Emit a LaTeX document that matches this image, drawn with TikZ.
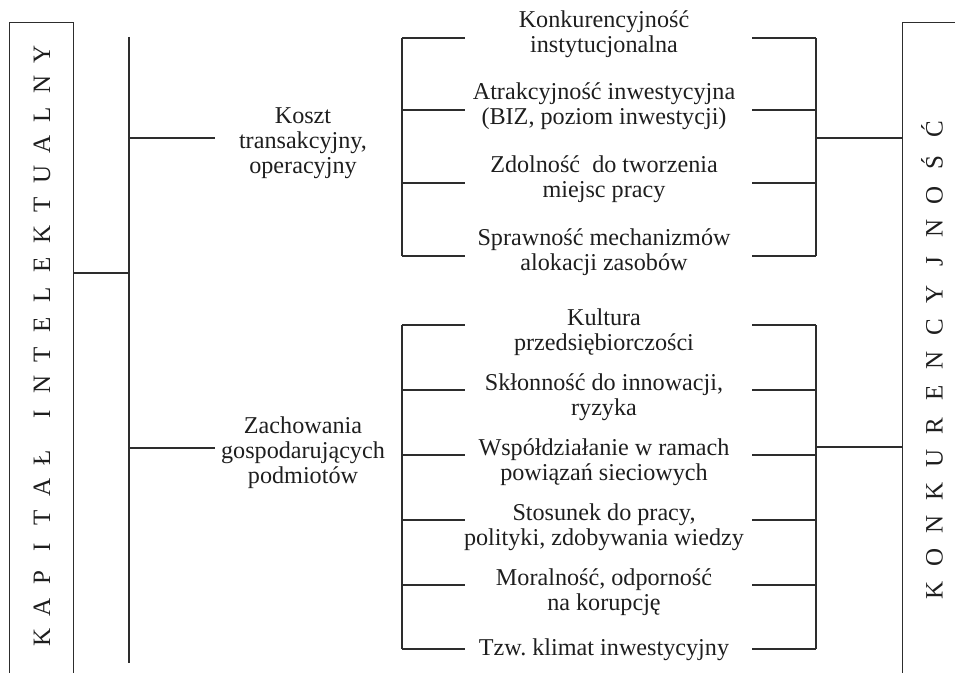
\documentclass[tikz,border=0pt]{standalone}
\usepackage{fontspec}
\setmainfont{Liberation Serif}
\definecolor{linegray}{RGB}{45, 45, 45}
\definecolor{textgray}{RGB}{30, 30, 30}
\usepackage{tikz}
\usetikzlibrary{positioning, calc}
\newcommand{\capL}[1]{\makebox[14.4pt]{#1}}
\newcommand{\capR}[1]{\makebox[15.8pt]{#1}}
\tikzset{
	item/.style={align=center, inner sep=0pt, text=textgray,
		font=\fontsize{11.6}{12}\selectfont},
	conn/.style={draw=linegray, line width=0.6pt},
	sidebox/.style={draw=linegray, line width=0.6pt, anchor=north west,
		minimum width=30.72pt, minimum height=335pt},
	sidetext/.style={rotate=90, inner sep=0pt, text=textgray,
		font=\fontsize{12}{12}\selectfont}
}

\begin{document}
\begin{tikzpicture}[x=0.48pt, y=-0.48pt]
	\clip (0,0) rectangle (955,672);
	
	\node[sidebox] (kapital) at (9,22) {};
	\node[sidetext] (kapitaltxt) at (42,346) {\capL K\capL A\capL P\capL I\capL T\capL A\capL Ł\hspace{6.2pt}\capL I\capL N\capL T\capL E\capL L\capL E\capL K\capL T\capL U\capL A\capL L\capL N\capL Y};
	\node[sidebox] (konk) at (902,22) {};
	\node[sidetext] (konktxt) at (932,360) {\capR K\capR O\capR N\capR K\capR U\capR R\capR E\capR N\capR C\capR Y\capR J\capR N\capR O\capR Ś\capR Ć};
	
	\coordinate (spine top) at (129,37);
	\coordinate (spine bot) at (129,663);
	\draw[conn] (spine top) -- (spine bot);
	\draw[conn] (kapital.east |- 0,273) -- (spine top |- 0,273);
	
	\node[item] (koszt) at (303,143) {Koszt\\transakcyjny,\\operacyjny};
	\node[item] (zach) at (303,453) {Zachowania\\gospodarujących\\podmiotów};
	\draw[conn] (spine top |- 0,138) -- (215,138);
	\draw[conn] (spine top |- 0,448) -- (215,448);
	
	\node[item] (k1) at (604,34) {Konkurencyjność\\instytucjonalna};
	\node[item] (k2) at (604,106) {Atrakcyjność inwestycyjna\\(BIZ, poziom inwestycji)};
	\node[item] (k3) at (604,179) {Zdolność\ \ do tworzenia\\miejsc pracy};
	\node[item] (k4) at (604,252) {Sprawność mechanizmów\\alokacji zasobów};
	
	\node[item] (z1) at (604,332) {Kultura\\przedsiębiorczości};
	\node[item] (z2) at (604,397) {Skłonność do innowacji,\\ryzyka};
	\node[item] (z3) at (604,462) {Współdziałanie w ramach\\powiązań sieciowych};
	\node[item] (z4) at (604,527) {Stosunek do pracy,\\polityki, zdobywania wiedzy};
	\node[item] (z5) at (604,592) {Moralność, odporność\\na korupcję};
	\node[item] (z6) at (604,650) {Tzw.\ klimat inwestycyjny};
	
	\foreach \y in {38,110,183,256,325,390,455,520,585,649}{
		\draw[conn] (402,\y) -- (465,\y);
		\draw[conn] (752,\y) -- (816,\y);
	}
	\draw[conn] (402,38) -- (402,256);
	\draw[conn] (816,38) -- (816,256);
	\draw[conn] (402,325) -- (402,649);
	\draw[conn] (816,325) -- (816,649);
	
	\draw[conn] (816,138) -- (konk.west |- 0,138);
	\draw[conn] (816,447) -- (konk.west |- 0,447);
\end{tikzpicture}
\end{document}
